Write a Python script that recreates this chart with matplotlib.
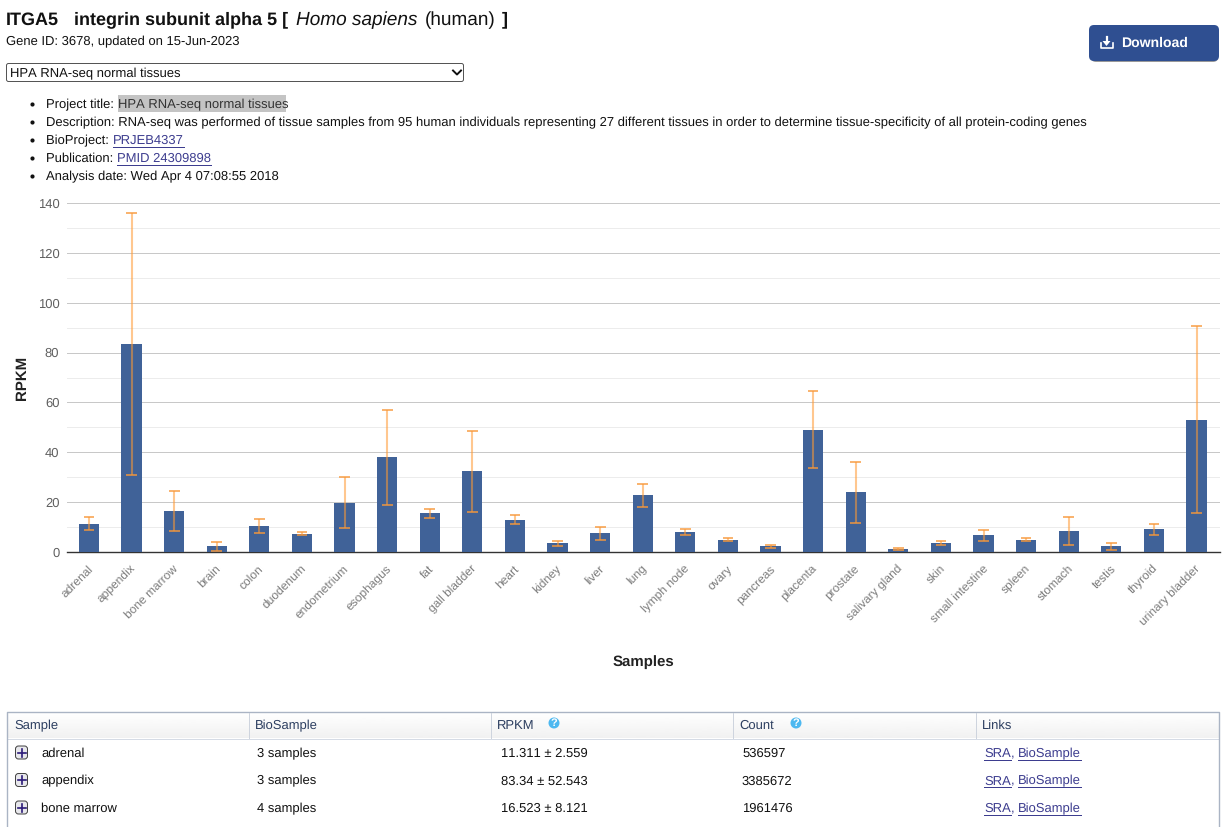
import matplotlib
matplotlib.use('Agg')
import matplotlib.pyplot as plt
import numpy as np
from matplotlib.patches import FancyBboxPatch, Rectangle, Circle
from matplotlib.transforms import ScaledTranslation

plt.rcParams['font.family'] = ['Liberation Sans', 'DejaVu Sans']
plt.rcParams['text.hinting'] = 'no_hinting'
plt.rcParams['text.hinting_factor'] = 1

W, H = 1226, 827

# expression per tissue
tissues = ['adrenal', 'appendix', 'bone marrow', 'brain', 'colon', 'duodenum', 'endometrium',
           'esophagus', 'fat', 'gall bladder', 'heart', 'kidney', 'liver', 'lung', 'lymph node',
           'ovary', 'pancreas', 'placenta', 'prostate', 'salivary gland', 'skin',
           'small intestine', 'spleen', 'stomach', 'testis', 'thyroid', 'urinary bladder']
rpkm = [11.311, 83.34, 16.523, 2.3, 10.3, 7.3, 19.7, 38.0, 15.5, 32.3, 13.0, 3.5, 7.5, 22.8,
        8.0, 5.0, 2.3, 49.0, 24.0, 1.2, 3.8, 6.8, 5.0, 8.5, 2.3, 9.2, 53.0]
rpkm_err = [2.559, 52.543, 8.121, 1.8, 2.8, 0.6, 10.2, 19.0, 1.8, 16.2, 1.7, 0.9, 2.6, 4.6,
            1.2, 0.5, 0.6, 15.5, 12.3, 0.5, 0.8, 2.2, 0.6, 5.7, 1.5, 2.2, 37.5]

# rows of the sample table
row_samples = ['adrenal', 'appendix', 'bone marrow']
row_biosamples = ['3 samples', '3 samples', '4 samples']
row_rpkm = ['11.311 ± 2.559', '83.34 ± 52.543', '16.523 ± 8.121']
row_counts = ['536597', '3385672', '1961476']
table_headers = ['Sample', 'BioSample', 'RPKM', 'Count', 'Links']

BODY = 9.32
LINK = '#3d3d8f'
PX = 0.72  # one pixel, in points

fig = plt.figure(figsize=(W / 100, H / 100), dpi=100, facecolor='white')
page = fig.add_axes([0, 0, 1, 1])
page.set_xlim(0, W)
page.set_ylim(H, 0)
page.axis('off')
renderer = fig.canvas.get_renderer()


def put(x, y, s, size=BODY, color='#111111', underline=False, **kw):
    # y is the middle of the line, text sits on a baseline below it
    t = page.text(x, y + size * 0.5, s, fontsize=size, color=color, va='baseline', ha='left', **kw)
    ext = t.get_window_extent(renderer)
    if underline:
        page.plot([x, ext.x1], [y + 7, y + 7], color=color, lw=PX)
    return ext.x1


# page heading
put(6, 18, 'ITGA5', size=12.8, weight='bold')
put(74, 18, 'integrin subunit alpha 5 [', size=12.8, weight='bold')
put(296.5, 18, 'Homo sapiens', size=13.6, style='italic')
put(425, 18, '(human)', size=13.6)
put(501.5, 18, ']', size=12.8, weight='bold')
put(6, 40.5, 'Gene ID: 3678, updated on 15-Jun-2023')

# download button
page.add_patch(FancyBboxPatch((1091, 27), 127, 35, boxstyle='round,pad=0,rounding_size=5',
                              fc='#999999', ec='none'))
page.add_patch(FancyBboxPatch((1089, 25), 130, 36, boxstyle='round,pad=0,rounding_size=5',
                              fc='#2f4f91', ec='none'))
page.plot([1100.5, 1100.5, 1112.5, 1112.5], [43, 48, 48, 43], color='white', lw=1.2)
page.plot([1106.5, 1106.5], [37, 42], color='white', lw=1.6)
page.fill([1102.5, 1110.5, 1106.5], [41, 41, 46], color='white', lw=0)
put(1121, 42, 'Download', size=10.4, color='white', weight='bold')

# project selector
page.add_patch(FancyBboxPatch((6.5, 63.5), 457, 18, boxstyle='round,pad=0,rounding_size=2',
                              fc='white', ec='#555555', lw=PX))
put(10.5, 72.5, 'HPA RNA-seq normal tissues', size=9.25)
page.plot([453, 457, 461], [70.5, 74.5, 70.5], color='#111111', lw=1.4)

# project details
page.add_patch(Rectangle((117.5, 95), 168, 17, fc='#c4c4c4', ec='none'))
bullet_y = [103.5, 121.5, 139.5, 157.5, 175.5]
page.scatter([32] * 5, bullet_y, s=9, color='#111111', linewidths=0)
put(46, 103.5, 'Project title: ')
put(118, 103.5, 'HPA RNA-seq normal tissues', size=9.25, color='#333333')
put(46, 121.5, 'Description: RNA-seq was performed of tissue samples from 95 human individuals '
    'representing 27 different tissues in order to determine tissue-specificity of all '
    'protein-coding genes')
put(46, 139.5, 'BioProject: ')
put(113, 139.5, 'PRJEB4337', color=LINK, underline=True)
put(46, 157.5, 'Publication: ')
put(117, 157.5, 'PMID 24309898', color=LINK, underline=True)
put(46, 175.5, 'Analysis date: Wed Apr 4 07:08:55 2018')

# bar chart
ax = fig.add_axes([67 / W, 1 - 552 / H, 1153 / W, 349 / H])
xs = np.arange(len(tissues))
ax.bar(xs, rpkm, width=0.475, color='#406298', zorder=3)
lower = np.array(rpkm) - np.array(rpkm_err)
upper = np.array(rpkm) + np.array(rpkm_err)
ax.vlines(xs, lower, upper, color='#ff9a33', alpha=0.55, lw=1.5, zorder=4)
ax.hlines(np.concatenate([lower, upper]),
          np.concatenate([xs, xs]) - 0.125, np.concatenate([xs, xs]) + 0.125,
          color='#f8983a', alpha=0.8, lw=1.3, zorder=4)
ax.set_xlim(-0.516, 26.55)
ax.set_ylim(0, 140)
ax.set_yticks(np.arange(0, 141, 20))
ax.set_yticks(np.arange(10, 140, 20), minor=True)
ax.grid(axis='y', which='major', color='#c8c8c8', lw=PX, zorder=0)
ax.grid(axis='y', which='minor', color='#ececec', lw=PX, zorder=0)
ax.tick_params(axis='both', which='both', length=0)
ax.tick_params(axis='y', labelsize=9.3, labelcolor='#5f5f5f', pad=5.5)
ax.set_xticks(xs)
ax.set_xticklabels(tissues, rotation=45, ha='right', rotation_mode='anchor',
                   fontsize=8.7, color='#7a7a7a')
ax.tick_params(axis='x', pad=8)
# nudge the slanted labels left of their bars
nudge = ScaledTranslation(-1.5 / 100, 0, fig.dpi_scale_trans)
for label in ax.get_xticklabels():
    label.set_transform(label.get_transform() + nudge)
for side in ['top', 'right', 'left']:
    ax.spines[side].set_visible(False)
ax.spines['bottom'].set_color('#333333')
ax.spines['bottom'].set_linewidth(1.0)
ax.patch.set_alpha(0)
page.text(22, 378, 'RPKM', fontsize=10.5, weight='bold', color='#222222', rotation=90,
          ha='center', va='center')
page.text(643.5, 662, 'Samples', fontsize=10.5, weight='bold', color='#222222', ha='center', va='center')

# sample table
col_x = [7, 248, 490, 732, 975]
grad = np.linspace(1, 0.945, 32).reshape(-1, 1)
page.imshow(grad, extent=(7, 1219, 738, 712), cmap='gray', vmin=0, vmax=1, aspect='auto', zorder=1)
page.set_xlim(0, W)
page.set_ylim(H, 0)
page.plot([7, 1219], [738.5, 738.5], color='#d5dbe5', lw=PX, zorder=2)
page.plot([7, 7, 1219, 1219], [H, 712, 712, H], color='#aab4c4', lw=1.0, zorder=2)
for x in col_x[1:]:
    page.plot([x + 0.5, x + 0.5], [713, 738], color='#ced4de', lw=PX, zorder=2)
for x, head in zip(col_x, table_headers):
    put(x + 7, 724.5, head, color='#2c3e60')
for x in (554, 796):
    page.add_patch(Circle((x, 723), 5.5, fc='#4db8f0', ec='none', zorder=3))
    page.text(x, 723, '?', color='white', fontsize=8, weight='bold', ha='center', va='center', zorder=4)

row_y = [752.5, 780, 807.5]
for i, y in enumerate(row_y):
    page.add_patch(FancyBboxPatch((15.5, y - 6.5), 12, 13, boxstyle='round,pad=0,rounding_size=3',
                                  fc='#e8e8ec', ec='#444444', lw=PX, zorder=3))
    page.plot([17.5, 25.5], [y, y], color='#2b1a78', lw=1.2, zorder=4)
    page.plot([21.5, 21.5], [y - 4, y + 4], color='#2b1a78', lw=1.2, zorder=4)
    put(41, y, row_samples[i])
    put(257, y, row_biosamples[i])
    put(501, y, row_rpkm[i])
    put(742, y, row_counts[i])
    end = put(984, y, 'SRA', color=LINK, underline=True)
    put(end, y, ',', color=LINK)
    put(1018, y, 'BioSample', color=LINK, underline=True)

fig.savefig('out.png', dpi=100, facecolor='white')
